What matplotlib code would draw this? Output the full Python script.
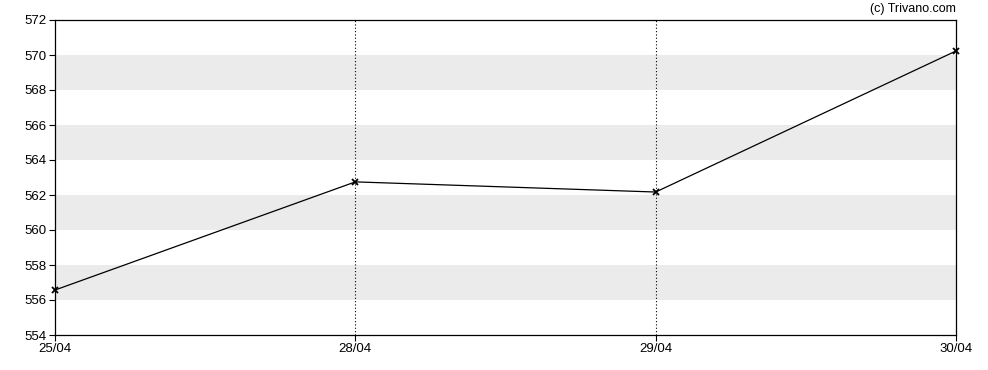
import matplotlib
matplotlib.use("Agg")
import matplotlib.pyplot as plt

# price data
dates = ["25/04", "28/04", "29/04", "30/04"]
prices = [556.57, 562.75, 562.17, 570.23]
y_ticks = [554, 556, 558, 560, 562, 564, 566, 568, 570, 572]

plt.rcParams["font.family"] = ["Liberation Sans", "DejaVu Sans"]

fig = plt.figure(figsize=(9.88, 3.70), dpi=100)
ax = fig.add_axes([55 / 988, 1 - 335 / 370, 901 / 988, 315 / 370])

x = list(range(len(dates)))

# alternating grey bands
for lo in range(556, 572, 4):
    ax.axhspan(lo, lo + 2, color="#ebebeb", zorder=0, lw=0)

# dotted day separators
for xi in x[1:-1]:
    ax.axvline(xi, color="black", linestyle=(0, (1, 2)), lw=0.8, zorder=1)

ax.plot(x, prices, color="black", lw=0.9, marker="x", markersize=4.5,
        markeredgewidth=1.3, zorder=3, clip_on=False)

ax.set_xlim(0, len(dates) - 1)
ax.set_ylim(554, 572)
ax.set_xticks(x)
ax.set_xticklabels(dates)
ax.set_yticks(y_ticks)
ax.tick_params(axis="both", labelsize=9.5, length=4, width=0.8, color="black", pad=2)
for s in ax.spines.values():
    s.set_linewidth(0.9)

fig.text(956 / 988, 1 - 9 / 370, "(c) Trivano.com", ha="right", va="center", fontsize=9)

fig.savefig("out.png", dpi=100)
